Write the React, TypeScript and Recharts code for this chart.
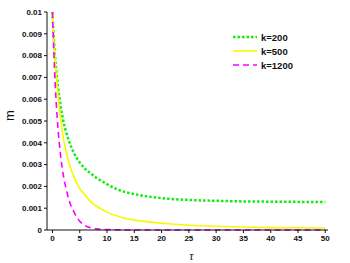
import React from 'react';
import { LineChart, Line, XAxis, YAxis } from 'recharts';

const tau = [0, 0.25, 0.5, 0.75, 1, 1.5, 2, 2.5, 3, 4, 5, 6, 7, 8, 9, 10, 12, 14, 16, 18, 20, 25, 30, 35, 40, 45, 50];
const k200 = [0.01, 0.0088, 0.0079, 0.0072, 0.0066, 0.0057, 0.005, 0.0045, 0.0041, 0.0035, 0.0031, 0.0028, 0.0026, 0.0024, 0.00225, 0.0021, 0.00185, 0.0017, 0.0016, 0.00152, 0.00146, 0.00138, 0.00134, 0.00131, 0.0013, 0.00129, 0.00128];
const k500 = [0.01, 0.0087, 0.0077, 0.0069, 0.0062, 0.0051, 0.0042, 0.0036, 0.0031, 0.0024, 0.0019, 0.0016, 0.0013, 0.0011, 0.00095, 0.00082, 0.00063, 0.0005, 0.00042, 0.00036, 0.00031, 0.00022, 0.00017, 0.00014, 0.00011, 0.0001, 0.00009];
const k1200 = [0.01, 0.0082, 0.0067, 0.0056, 0.0047, 0.0034, 0.0025, 0.0019, 0.0014, 0.0008, 0.0004, 0.0002, 0.0001, 0.00005, 0.00003, 0.00002, 0.00001, 0, 0, 0, 0, 0, 0, 0, 0, 0, 0];

const xTicks = [0, 5, 10, 15, 20, 25, 30, 35, 40, 45, 50];
const yTicks = [0, 0.001, 0.002, 0.003, 0.004, 0.005, 0.006, 0.007, 0.008, 0.009, 0.01];

const series = [
  { key: 'k=200', color: '#11ee11', width: 2.5, dash: '2.5 2' },
  { key: 'k=500', color: '#f8f800', width: 1.6, dash: undefined },
  { key: 'k=1200', color: '#ff00ff', width: 1.6, dash: '6 4' },
];

const data = tau.map((t, i) => ({ tau: t, 'k=200': k200[i], 'k=500': k500[i], 'k=1200': k1200[i] }));

const font = 'Liberation Sans, Arial, sans-serif';

// legend drawn as an overlay so it doesn't eat plot space
const LegendBox = () => (
  <svg width={80} height={45} style={{ position: 'absolute', left: 232, top: 29 }}>
    {series.map((s, i) => (
      <g key={s.key}>
        <line x1={1} x2={25} y1={8 + i * 14} y2={8 + i * 14} stroke={s.color} strokeWidth={s.width} strokeDasharray={s.dash} />
        <text x={29} y={12 + i * 14} fontSize={9.5} fontWeight="bold" fontFamily={font} fill="#111">{s.key}</text>
      </g>
    ))}
  </svg>
);

export default function App() {
  return (
    <div style={{ position: 'absolute', left: 0, top: 0, width: 350, height: 263, background: '#fff' }}>
      <LineChart width={350} height={263} data={data} margin={{ top: 12, right: 22, left: 0, bottom: 13 }}>
        <XAxis
          dataKey="tau"
          type="number"
          domain={[-1, 50.5]}
          ticks={xTicks}
          stroke="#111"
          tickSize={3}
          height={20}
          tick={{ fontSize: 8, fontWeight: 'bold', fill: '#111', fontFamily: font }}
          label={{ value: 'τ', position: 'insideBottom', offset: -10, dx: 4, style: { fontSize: 12, fontStyle: 'italic', fill: '#111' } }}
        />
        <YAxis
          type="number"
          domain={[0, 0.01]}
          ticks={yTicks}
          stroke="#111"
          tickSize={3}
          width={47}
          tick={{ fontSize: 8, fontWeight: 'bold', fill: '#111', fontFamily: font }}
          label={{ value: 'm', angle: -90, position: 'insideLeft', offset: 9, style: { fontSize: 13, fill: '#111', fontFamily: font } }}
        />
        {series.map((s) => (
          <Line
            key={s.key}
            dataKey={s.key}
            type="monotone"
            stroke={s.color}
            strokeWidth={s.width}
            strokeDasharray={s.dash}
            dot={false}
            isAnimationActive={false}
          />
        ))}
      </LineChart>
      <LegendBox />
    </div>
  );
}
